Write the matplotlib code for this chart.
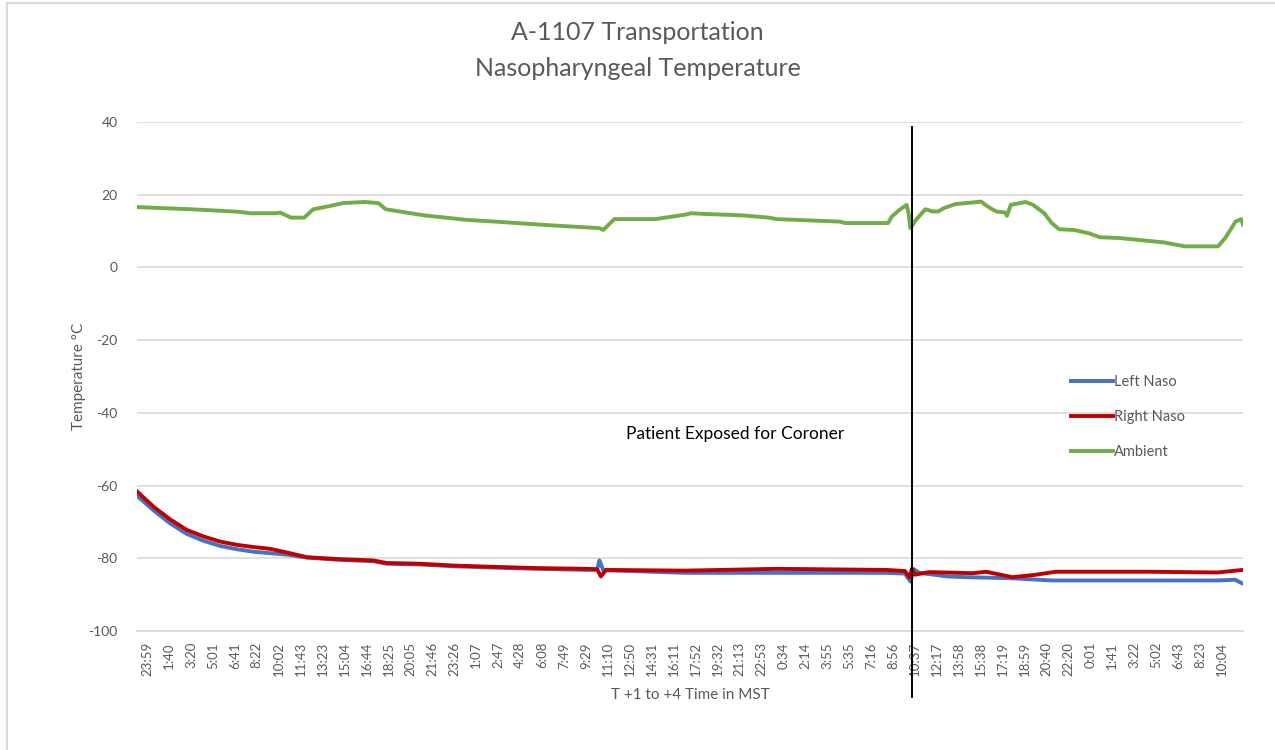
import matplotlib
matplotlib.use('Agg')
import matplotlib.pyplot as plt
from matplotlib.lines import Line2D

# x positions are in tick-label units (0 = first label "23:59")
tick_labels = [
    "23:59", "1:40", "3:20", "5:01", "6:41", "8:22", "10:02", "11:43", "13:23", "15:04",
    "16:44", "18:25", "20:05", "21:46", "23:26", "1:07", "2:47", "4:28", "6:08", "7:49",
    "9:29", "11:10", "12:50", "14:31", "16:11", "17:52", "19:32", "21:13", "22:53", "0:34",
    "2:14", "3:55", "5:35", "7:16", "8:56", "10:37", "12:17", "13:58", "15:38", "17:19",
    "18:59", "20:40", "22:20", "0:01", "1:41", "3:22", "5:02", "6:43", "8:23", "10:04",
]

ambient_x = [-0.46, 2.0, 4.2, 4.70, 5.88, 6.06, 6.56, 7.16, 7.58, 8.26, 8.93, 9.94, 10.54,
             10.88, 11.81, 12.66, 14.53, 15.88, 18.09, 20.63, 20.80, 21.30, 23.17, 24.52,
             24.80, 25.48, 27.19, 28.34, 28.70, 31.58, 31.83, 33.78, 33.95, 34.29, 34.63,
             34.71, 34.80, 35.05, 35.48, 35.81, 36.07, 36.32, 36.83, 38.02, 38.36, 38.70,
             39.12, 39.20, 39.37, 40.05, 40.39, 40.90, 41.24, 41.58, 42.26, 42.93, 43.44,
             44.29, 46.33, 47.31, 48.82, 49.15, 49.62, 49.87, 49.96]
ambient_y = [16.6, 16.0, 15.3, 14.9, 14.9, 15.1, 13.7, 13.7, 16.0, 16.8, 17.7, 18.0, 17.7,
             16.0, 15.1, 14.3, 13.1, 12.6, 11.7, 10.8, 10.3, 13.3, 13.3, 14.5,
             14.9, 14.7, 14.3, 13.7, 13.3, 12.6, 12.2, 12.2, 14.0, 15.8, 17.2,
             14.9, 10.8, 13.1, 16.0, 15.4, 15.4, 16.3, 17.4, 18.1, 16.6, 15.4,
             15.1, 14.2, 17.2, 18.0, 17.2, 14.9, 12.2, 10.5, 10.3, 9.4, 8.3,
             8.1, 6.9, 5.8, 5.8, 8.1, 12.6, 13.3, 11.8]

right_x = [-0.46, 0.29, 1.05, 1.81, 2.57, 3.33, 4.09, 4.85, 5.61, 6.37, 7.28, 8.65, 10.31,
           10.93, 12.44, 13.96, 15.48, 17.76, 20.04, 20.51, 20.69, 20.92, 24.51, 28.69,
           33.67, 34.55, 34.76, 34.87, 35.0, 35.66, 37.65, 38.24, 38.65, 39.44, 40.43,
           41.43, 45.61, 48.80, 49.96]
right_y = [-61.6, -65.8, -69.3, -72.2, -74.0, -75.4, -76.3, -76.9, -77.4, -78.4, -79.7, -80.2, -80.6,
           -81.3, -81.5, -82.0, -82.3, -82.7, -82.9, -83.0, -85.0, -83.2, -83.4, -82.9,
           -83.2, -83.5, -85.3, -82.8, -84.5, -83.8, -84.1, -83.7, -84.2, -85.2, -84.6,
           -83.7, -83.7, -83.9, -83.2]

left_x = [-0.46, 0.29, 1.05, 1.81, 2.57, 3.33, 4.09, 4.85, 5.61, 6.37, 7.28, 8.65, 10.31,
          10.93, 12.44, 13.96, 15.48, 17.76, 20.04, 20.51, 20.62, 20.80, 22.0, 24.51, 28.69,
          33.67, 34.55, 34.80, 34.95, 35.2, 36.5, 37.4, 39.44, 41.23, 48.80, 49.6, 49.96]
left_y = [-62.8, -66.8, -70.4, -73.3, -75.2, -76.6, -77.5, -78.2, -78.6, -79.0, -79.8, -80.4, -80.8,
          -81.5, -81.7, -82.2, -82.5, -82.9, -83.2, -83.2, -80.6, -83.3, -83.5, -84.0, -84.0,
          -84.0, -84.2, -86.4, -83.0, -84.0, -85.0, -85.2, -85.5, -86.1, -86.1, -85.9, -87.0]

event_x = 34.87
event_text = "Patient Exposed for Coroner"

BLUE = '#4472C4'
RED = '#C00000'
GREEN = '#70AD47'
GRAY = '#595959'
LW = 2.8

plt.rcParams['font.family'] = ['Lato', 'DejaVu Sans']
plt.rcParams['axes.unicode_minus'] = False

fig = plt.figure(figsize=(12.75, 7.5), dpi=100)
ax = fig.add_axes([137 / 1275, 1 - 631 / 750, (1243 - 137) / 1275, (631 - 122) / 750])

ax.plot(left_x, left_y, color=BLUE, linewidth=LW, solid_joinstyle='round', zorder=3)
ax.plot(right_x, right_y, color=RED, linewidth=LW, solid_joinstyle='round', zorder=4)
ax.plot(ambient_x, ambient_y, color=GREEN, linewidth=LW, solid_joinstyle='round', zorder=3)

# event marker line, runs down into the tick labels
ax.plot([event_x, event_x], [38.7, -118.1], color='black', linewidth=1.4,
        clip_on=False, zorder=5)
ax.text(26.8, -45.8, event_text, fontsize=12.5, color='black', ha='center', va='center')

ax.set_xlim(-0.46, 49.96)
ax.set_ylim(-100, 40)
ax.set_yticks(range(-100, 41, 20))
ax.set_xticks(range(len(tick_labels)))
ax.set_xticklabels(tick_labels, rotation=90)
ax.tick_params(axis='both', length=0, colors=GRAY, labelsize=10)
ax.tick_params(axis='x', labelsize=9.5, pad=8)
ax.tick_params(axis='y', pad=14)
ax.grid(axis='y', color='#D9D9D9', linewidth=1.2)
ax.set_axisbelow(True)
for side in ['top', 'right', 'left']:
    ax.spines[side].set_visible(False)
ax.spines['bottom'].set_color('#D9D9D9')
ax.spines['bottom'].set_linewidth(1.2)

ax.set_ylabel('Temperature °C', fontsize=11, color=GRAY, labelpad=2)
ax.set_xlabel('T +1 to +4 Time in MST', fontsize=11, color=GRAY, labelpad=8)

fig.text(0.5, 1 - 33 / 750, 'A-1107 Transportation', ha='center', va='center',
         fontsize=18, color=GRAY)
fig.text(0.5, 1 - 68 / 750, 'Nasopharyngeal Temperature', ha='center', va='center',
         fontsize=18, color=GRAY)

handles = [Line2D([0], [0], color=BLUE, linewidth=LW),
           Line2D([0], [0], color=RED, linewidth=LW),
           Line2D([0], [0], color=GREEN, linewidth=LW)]
leg = fig.legend(handles, ['Left Naso', 'Right Naso', 'Ambient'], loc='upper left',
                 bbox_to_anchor=(1058 / 1275, 1 - 362 / 750), frameon=False, fontsize=10.5,
                 handlelength=2.9, handletextpad=0.05, labelspacing=1.45)
for t in leg.get_texts():
    t.set_color(GRAY)

# chart frame (left and top edges visible in the screenshot)
fig.add_artist(Line2D([7 / 1275, 7 / 1275], [0, 1 - 3 / 750], color='#D9D9D9',
                      linewidth=1.5, transform=fig.transFigure))
fig.add_artist(Line2D([7 / 1275, 1], [1 - 3 / 750, 1 - 3 / 750], color='#D9D9D9',
                      linewidth=1.5, transform=fig.transFigure))

fig.savefig('out.png', dpi=100)
